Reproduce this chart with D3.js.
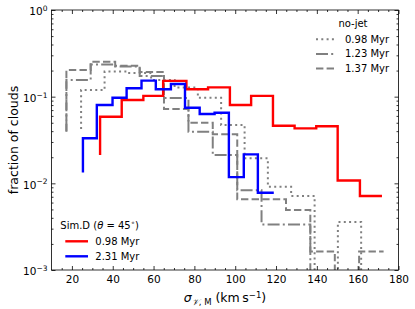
<!DOCTYPE html>
<html>
<head>
<meta charset="utf-8">
<script src="https://cdn.jsdelivr.net/npm/d3@7"></script>
<style>
  body { margin: 0; background: #fff; }
  svg { font-family: "DejaVu Sans", sans-serif; }
</style>
</head>
<body>
<div id="chart"></div>
<script>
// Sim.D (theta = 45 deg), steps-pre: first value is where the step starts
const redEdges = [33.8, 44.4, 55.0, 64.7, 76.1, 86.7, 97.4, 107.8, 118.5, 129.1, 139.7, 150.2, 161.1, 171.9];
const redFrac = [0.0212, 0.0587, 0.0916, 0.102, 0.152, 0.1216, 0.128, 0.0801, 0.102, 0.0462, 0.0431, 0.0455, 0.0108, 0.00714];

const blueEdges = [25.4, 32.2, 39.9, 46.8, 54.1, 61.1, 68.5, 75.4, 82.6, 89.9, 96.9, 104.2, 111.1, 118.9];
const blueFrac = [0.0133, 0.0331, 0.0801, 0.0973, 0.125, 0.153, 0.1216, 0.140, 0.0746, 0.0631, 0.0653, 0.0118, 0.0216, 0.0078];

// no-jet runs
const dotEdges = [24.5, 36.0, 47.4, 58.8, 70.3, 81.7, 93.1, 104.6, 116.0, 127.4, 138.9, 150.3, 161.7, 173.2];
const dotFrac = [0.0424, 0.119, 0.195, 0.1875, 0.1556, 0.128, 0.0973, 0.0471, 0.01945, 0.00915, 0.00714, 0, 0.00358, 0];

const dashdotEdges = [17.3, 29.2, 41.2, 53.2, 65.1, 77.1, 89.0, 101.0, 112.9, 124.9, 136.8, 148.8, 160.7, 172.7];
const dashdotFrac = [0.0394, 0.1556, 0.235, 0.223, 0.173, 0.0966, 0.0394, 0.0212, 0.00831, 0.00335, 0.00335, 0, 0, 0];

const dashEdges = [17.3, 29.2, 41.2, 53.2, 65.1, 77.1, 89.0, 101.0, 112.9, 124.9, 136.8, 148.8, 160.7, 172.7];
const dashFrac = [0.04, 0.203, 0.253, 0.2277, 0.1926, 0.0721, 0.0501, 0.0368, 0.00654, 0.00654, 0.00493, 0.00164, 0, 0.00164];

const xTicks = [20, 40, 60, 80, 100, 120, 140, 160, 180];
const yTicks = [1, 0.1, 0.01, 0.001];
const yTickExp = ["0", "\u22121", "\u22122", "\u22123"];

const noJetLabels = ["0.98 Myr", "1.23 Myr", "1.37 Myr"];
const simLabels = ["0.98 Myr", "2.31 Myr"];

const W = 415, H = 309;
const margin = {top: 10, right: 16.5, bottom: 39, left: 51.5};
const width = W - margin.left - margin.right;
const height = H - margin.top - margin.bottom;

const grey = "#808080";
const dotDash = "2,3.3";
const dashDash = "7.4,3.2";
const dashDotDash = "12,3.2,2,3.2";

const svg = d3.select("#chart").append("svg")
    .attr("width", W)
    .attr("height", H);

const plot = svg.append("g")
    .attr("transform", `translate(${margin.left},${margin.top})`);

const x = d3.scaleLinear().domain([10, 180]).range([0, width]);
const y = d3.scaleLog().domain([1e-3, 1]).range([height, 0]);

// zero bins fall below the axis and get clipped
const yv = v => v > 0 ? y(v) : height + 40;

svg.append("defs").append("clipPath").attr("id", "clip")
    .append("rect").attr("width", width).attr("height", height);

const line = d3.line()
    .x(d => x(d[0]))
    .y(d => yv(d[1]))
    .curve(d3.curveStepBefore);

const series = [
    {edges: dotEdges, frac: dotFrac, color: grey, w: 2, dash: dotDash},
    {edges: dashdotEdges, frac: dashdotFrac, color: grey, w: 2, dash: dashDotDash},
    {edges: dashEdges, frac: dashFrac, color: grey, w: 2, dash: dashDash},
    {edges: redEdges, frac: redFrac, color: "#ff0000", w: 2.4, dash: null},
    {edges: blueEdges, frac: blueFrac, color: "#0000ff", w: 2.4, dash: null}
];

const lines = plot.append("g").attr("clip-path", "url(#clip)");
series.forEach(s => {
    lines.append("path")
        .datum(d3.zip(s.edges, s.frac))
        .attr("d", line)
        .attr("fill", "none")
        .attr("stroke", s.color)
        .attr("stroke-width", s.w)
        .attr("stroke-dasharray", s.dash);
});

// ticks, all pointing in
const xMinor = d3.range(15, 180, 5).filter(v => v % 20 !== 0);
const yMinor = [];
[-3, -2, -1].forEach(k => d3.range(2, 10).forEach(m => yMinor.push(m * Math.pow(10, k))));

function tickAxis(axis, scale, vals, size, g) {
    g.call(axis(scale).tickValues(vals).tickSize(-size).tickSizeOuter(0).tickFormat(""));
    g.select(".domain").remove();
    g.selectAll("line").attr("stroke", "#000").attr("stroke-width", 0.8);
}

tickAxis(d3.axisBottom, x, xMinor, 2, plot.append("g").attr("transform", `translate(0,${height})`));
tickAxis(d3.axisTop, x, xMinor, 2, plot.append("g"));
tickAxis(d3.axisTop, x, xTicks, 4, plot.append("g"));
tickAxis(d3.axisLeft, y, yMinor, 2, plot.append("g"));
tickAxis(d3.axisRight, y, yMinor, 2, plot.append("g").attr("transform", `translate(${width},0)`));
tickAxis(d3.axisRight, y, yTicks, 4, plot.append("g").attr("transform", `translate(${width},0)`));

const xAxis = plot.append("g")
    .attr("transform", `translate(0,${height})`)
    .call(d3.axisBottom(x).tickValues(xTicks).tickSize(-4).tickSizeOuter(0).tickPadding(6));
xAxis.select(".domain").remove();
xAxis.selectAll("line").attr("stroke", "#000").attr("stroke-width", 0.8);
xAxis.selectAll("text").attr("font-size", 10.5).attr("fill", "#000")
    .attr("font-family", "DejaVu Sans");

const yAxis = plot.append("g")
    .call(d3.axisLeft(y).tickValues(yTicks).tickSize(-4).tickSizeOuter(0).tickPadding(4).tickFormat(""));
yAxis.select(".domain").remove();
yAxis.selectAll("line").attr("stroke", "#000").attr("stroke-width", 0.8);
yAxis.selectAll(".tick text").each(function(d, i) {
    const t = d3.select(this)
        .attr("font-size", 10.5).attr("fill", "#000")
        .attr("font-family", "DejaVu Sans")
        .attr("x", -4).attr("dy", "0.45em");
    t.append("tspan").text("10");
    t.append("tspan").attr("dy", "-0.55em").attr("font-size", 7.5).text(yTickExp[i]);
});

plot.append("rect")
    .attr("width", width).attr("height", height)
    .attr("fill", "none").attr("stroke", "#000").attr("stroke-width", 0.8);

// axis titles
svg.append("text")
    .attr("transform", `translate(14,${margin.top + height / 2}) rotate(-90)`)
    .attr("text-anchor", "middle")
    .attr("dy", "0.35em")
    .attr("font-size", 12.5)
    .text("fraction of clouds");

const xl = svg.append("text")
    .attr("x", margin.left + width / 2)
    .attr("y", 302)
    .attr("text-anchor", "middle")
    .attr("font-size", 12.5);
xl.append("tspan").attr("font-style", "italic").text("\u03c3");
xl.append("tspan").attr("dy", 3).attr("font-size", 8.5).attr("font-style", "italic").text("\ud835\udcb1");
xl.append("tspan").attr("font-size", 8.5).text(", M");
xl.append("tspan").attr("dy", -3).text(" (km\u2009s");
xl.append("tspan").attr("dy", -4.5).attr("font-size", 8.5).text("\u22121");
xl.append("tspan").attr("dy", 4.5).text(")");

// legends
const noJetStyles = [dotDash, dashDotDash, dashDash];
const legA = svg.append("g");
legA.append("text").attr("x", 353).attr("y", 23.3).attr("dy", "0.35em")
    .attr("text-anchor", "middle").attr("font-size", 10).text("no-jet");
noJetLabels.forEach((lab, i) => {
    const ly = 39.3 + i * 14.6;
    legA.append("line").attr("x1", 316).attr("x2", 336).attr("y1", ly).attr("y2", ly)
        .attr("stroke", grey).attr("stroke-width", 2).attr("stroke-dasharray", noJetStyles[i]);
    legA.append("text").attr("x", 345).attr("y", ly).attr("dy", "0.35em")
        .attr("font-size", 10).text(lab);
});

const simColors = ["#ff0000", "#0000ff"];
const legB = svg.append("g");
const tt = legB.append("text").attr("x", 60.3).attr("y", 225.3).attr("dy", "0.35em")
    .attr("font-size", 10);
tt.append("tspan").text("Sim.D (");
tt.append("tspan").attr("font-style", "italic").text("\u03b8");
tt.append("tspan").text(" = 45");
tt.append("tspan").attr("dy", -4).attr("font-size", 7).text("\u2218");
tt.append("tspan").attr("dy", 4).text(")");
simLabels.forEach((lab, i) => {
    const ly = 241.3 + i * 15;
    legB.append("line").attr("x1", 65.3).attr("x2", 88).attr("y1", ly).attr("y2", ly)
        .attr("stroke", simColors[i]).attr("stroke-width", 2.4);
    legB.append("text").attr("x", 95.3).attr("y", ly).attr("dy", "0.35em")
        .attr("font-size", 10).text(lab);
});
</script>
</body>
</html>
